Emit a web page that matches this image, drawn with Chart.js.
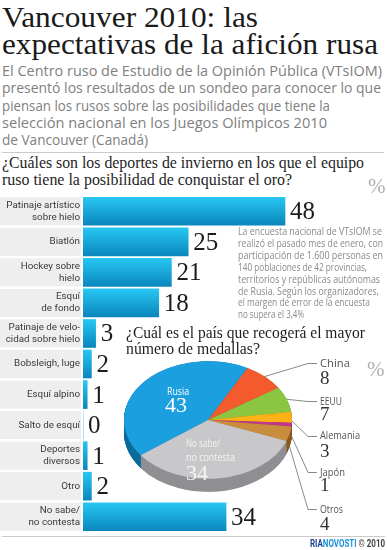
<!DOCTYPE html>
<html><head><meta charset="utf-8">
<script src="https://cdn.jsdelivr.net/npm/chart.js@4.4.1/dist/chart.umd.min.js"></script>
<style>
html,body{margin:0;padding:0;background:#fff;}
body{width:387px;height:550px;position:relative;overflow:hidden;}
.t{position:absolute;white-space:nowrap;transform-origin:0 0;}
canvas{position:absolute;}
.rule{position:absolute;height:1px;background:#c9c9c9;}
</style></head><body>
<div class="rule" style="left:2px;top:152px;width:382px;"></div>
<div class="rule" style="left:2px;top:536px;width:383px;"></div>
<canvas id="bars" width="387" height="338" style="left:0;top:194px;"></canvas>
<canvas id="pie" width="200" height="180" style="left:122px;top:334px;"></canvas>
<script>
// ---------- DATA ----------
const sportLabels = [
  ['Patinaje artístico','sobre hielo'], 'Biatlón', ['Hockey sobre','hielo'], ['Esquí','de fondo'],
  ['Patinaje de velo-','cidad sobre hielo'], 'Bobsleigh, luge', 'Esquí alpino', 'Salto de esquí',
  ['Deportes','diversos'], 'Otro', ['No sabe/','no contesta']
];
const sportValues = [48, 25, 21, 18, 3, 2, 1, 0, 1, 2, 34];

const countryLabels = ['Rusia','China','EEUU','Alemania','Japón','Otros','No sabe/no contesta'];
const countryValues = [43, 8, 7, 3, 1, 4, 34];

// ---------- STYLES ----------
const pieColors  = ['#1c9fdf','#f35a2e','#8cc540','#fcb216','#c2378d','#c98d3e','#c8c8ca'];
const sideColors = ['#0f6d9e','#a93a18','#5e8c25','#b98008','#84205e','#8a5b1d','#8f9093'];
const SERIF = '"Liberation Serif","DejaVu Serif",serif';
const SANS = '"Open Sans","Noto Sans",sans-serif';

// ---------- TEXT HELPER ----------
function T(html, x, base, size, fam, color, w, weight){
  const d = document.createElement('div');
  d.className = 't';
  d.style.left = x + 'px'; d.style.top = '0px';
  d.style.fontFamily = fam; d.style.fontSize = size + 'px';
  d.style.color = color;
  if (weight) d.style.fontWeight = weight;
  d.innerHTML = html;
  const m = document.createElement('span');
  m.style.cssText = 'display:inline-block;width:0;height:0;vertical-align:baseline';
  d.appendChild(m);
  document.body.appendChild(d);
  d.style.top = (base - m.offsetTop) + 'px';
  if (w) { const cw = d.getBoundingClientRect().width; d.style.transform = 'scaleX(' + (w / cw) + ')'; }
  return d;
}

// ---------- BAR CHART ----------
const boxPlugin = {
  id: 'boxes',
  beforeDraw(chart){
    const c = chart.ctx, y = chart.scales.y;
    c.save(); c.fillStyle = '#eeeeee';
    sportValues.forEach((v, i) => { const p = y.getPixelForTick(i); c.fillRect(0, p - 14, 81, 28); });
    c.restore();
  }
};
const valuePlugin = {
  id: 'values',
  afterDatasetsDraw(chart){
    const c = chart.ctx, meta = chart.getDatasetMeta(0);
    c.save(); c.font = '25px ' + SERIF; c.fillStyle = '#1c1c1c'; c.textBaseline = 'alphabetic';
    meta.data.forEach((bar, i) => c.fillText(String(sportValues[i]), bar.x + 5, bar.y + 8));
    c.restore();
  }
};
new Chart(document.getElementById('bars'), {
  type: 'bar',
  data: { labels: sportLabels, datasets: [{
    data: sportValues, borderWidth: 0, barThickness: 28,
    backgroundColor: (ctx) => {
      const ch = ctx.chart;
      if (ctx.type !== 'data' || !ch.chartArea || !ch.scales.y) return '#18aee0';
      const p = ch.scales.y.getPixelForValue(ctx.dataIndex);
      const g = ch.ctx.createLinearGradient(0, p - 14, 0, p + 14);
      g.addColorStop(0, '#27c7f3'); g.addColorStop(1, '#0a86bc');
      return g;
    }
  }]},
  options: {
    indexAxis: 'y', responsive: false, animation: false, devicePixelRatio: 1,
    layout: { padding: { top: 2, bottom: 0, left: 0, right: 1 } },
    plugins: { legend: { display: false }, tooltip: { enabled: false } },
    scales: {
      x: { display: false, min: 0, max: 72 },
      y: {
        grid: { display: false, drawTicks: false }, border: { display: false },
        ticks: { color: '#3a3a3a', padding: 3, font: { family: 'Roboto', size: 9.8, lineHeight: 1.22 } },
        afterFit(s){ s.width = 83; s.paddingTop = 0; s.paddingBottom = 0; }
      }
    }
  },
  plugins: [boxPlugin, valuePlugin]
});

// ---------- PIE CHART ----------
const SQUASH = 0.7, DEPTH = 13 / SQUASH;
const pieCanvasOffset = { x: 122, y: 334 };
const leaderTargets = [null, 363, 401, 436, 472, 509]; // page y of label anchors (by slice index)
const pie3d = {
  id: 'pie3d',
  beforeDatasetsDraw(chart){
    const c = chart.ctx, meta = chart.getDatasetMeta(0), cy = meta.data[0].y;
    c.save(); c.translate(0, cy); c.scale(1, SQUASH); c.translate(0, -cy);
    for (let d = DEPTH; d > 0; d -= 0.5) {
      meta.data.forEach((a, i) => {
        c.beginPath(); c.moveTo(a.x, a.y + d);
        c.arc(a.x, a.y + d, a.outerRadius, a.startAngle, a.endAngle);
        c.closePath(); c.fillStyle = sideColors[i]; c.fill();
      });
    }
  },
  afterDatasetsDraw(chart){
    const c = chart.ctx; c.restore();
    const meta = chart.getDatasetMeta(0);
    c.save(); c.strokeStyle = '#8a8a8a'; c.lineWidth = 1;
    meta.data.forEach((a, i) => {
      const ty = leaderTargets[i]; if (ty == null) return;
      const m = (a.startAngle + a.endAngle) / 2;
      const s = Math.sin(m);
      const sx = a.x + a.outerRadius * Math.cos(m);
      const sy = a.y + a.outerRadius * s * SQUASH + DEPTH * SQUASH * Math.max(0, Math.min(1, 0.5 + s * 5));
      const ey = ty - pieCanvasOffset.y + 0.5;
      const ex = 308 - pieCanvasOffset.x, fx = 317 - pieCanvasOffset.x;
      c.beginPath(); c.moveTo(sx, sy); c.lineTo(ex, ey); c.lineTo(fx, ey); c.stroke();
    });
    c.restore();
  }
};
new Chart(document.getElementById('pie'), {
  type: 'pie',
  data: { labels: countryLabels, datasets: [{ data: countryValues, backgroundColor: pieColors, borderWidth: 0, clip: false }] },
  options: {
    responsive: false, animation: false, devicePixelRatio: 1, rotation: 233.2,
    layout: { padding: { top: 2, left: 2, right: 30, bottom: 10 } },
    plugins: { legend: { display: false }, tooltip: { enabled: false } }
  },
  plugins: [pie3d]
});

// ---------- TEXTS ----------
T('Vancouver 2010: las', 2, 27, 30, SERIF, '#1a1a1a', 256);
T('expectativas de la afición rusa', 2, 54, 30, SERIF, '#1a1a1a', 376);
const sub = ['El Centro ruso de Estudio de la Opinión Pública (VTsIOM)',
  'presentó los resultados de un sondeo para conocer lo que',
  'piensan los rusos sobre las posibilidades que tiene la',
  'selección nacional en los Juegos Olímpicos 2010',
  'de Vancouver (Canadá)'];
const subW = [380, 379, 328, 325, 146];
sub.forEach((s, i) => T(s, 2, 76 + i * 17.3, 14.5, SANS, '#808080', subW[i]));

T('¿Cuáles son los deportes de invierno en los que el equipo', 2, 168, 16, SERIF, '#1e1e1e', 362);
T('ruso tiene la posibilidad de conquistar el oro?', 2, 185, 16, SERIF, '#1e1e1e', 290);
T('%', 368, 193, 21, SERIF, '#b0b0b0');

const blurb = ['La encuesta nacional de VTsIOM se','realizó el pasado mes de enero, con',
  'participación de 1.600 personas en','140 poblaciones de 42 provincias,',
  'territorios y repúblicas autónomas','de Rusia. Según los organizadores,',
  'el margen de error de la encuesta','no supera el 3,4%'];
const blurbW = [144, 145, 145, 129, 142, 141, 132, 66];
blurb.forEach((s, i) => T(s, 238, 235 + i * 11.9, 10.5, SANS, '#8a8a8a', blurbW[i]));

T('¿Cuál es el país que recogerá el mayor', 126, 338, 16, SERIF, '#1e1e1e', 239);
T('número de medallas?', 126, 354, 16, SERIF, '#1e1e1e', 134);
T('%', 367, 376, 21, SERIF, '#b0b0b0');

T('Rusia', 167, 395, 11, SANS, '#ffffff', 22);
T(String(countryValues[0]), 165, 412, 22, SERIF, '#ffffff');
T('No sabe/', 186, 447, 11, SANS, '#f4f4f4', 34);
T('no contesta', 186, 461, 11, SANS, '#f4f4f4', 49);
T(String(countryValues[6]), 186, 480, 22, SERIF, '#f4f4f4');

const sideNames = ['China','EEUU','Alemania','Japón','Otros'];
const sideNameBase = [367, 405, 439, 476, 513];
const sideValBase = [384, 420, 457, 491, 530];
const sideNameW = [30, 22, 40, 25, 23];
sideNames.forEach((n, i) => {
  T(n, 320, sideNameBase[i], 11.5, SANS, '#555555', sideNameW[i]);
  T(String(countryValues[i + 1]), 320, sideValBase[i], 19, SERIF, '#333333');
});

T('<span style="color:#1d3f8e">RIA</span><span style="color:#1b94dc">NOVOSTI</span> <span style="color:#444">© 2010</span>',
  310, 547, 11, 'Roboto, sans-serif', '#444', 75, 'bold');
</script>
</body></html>
